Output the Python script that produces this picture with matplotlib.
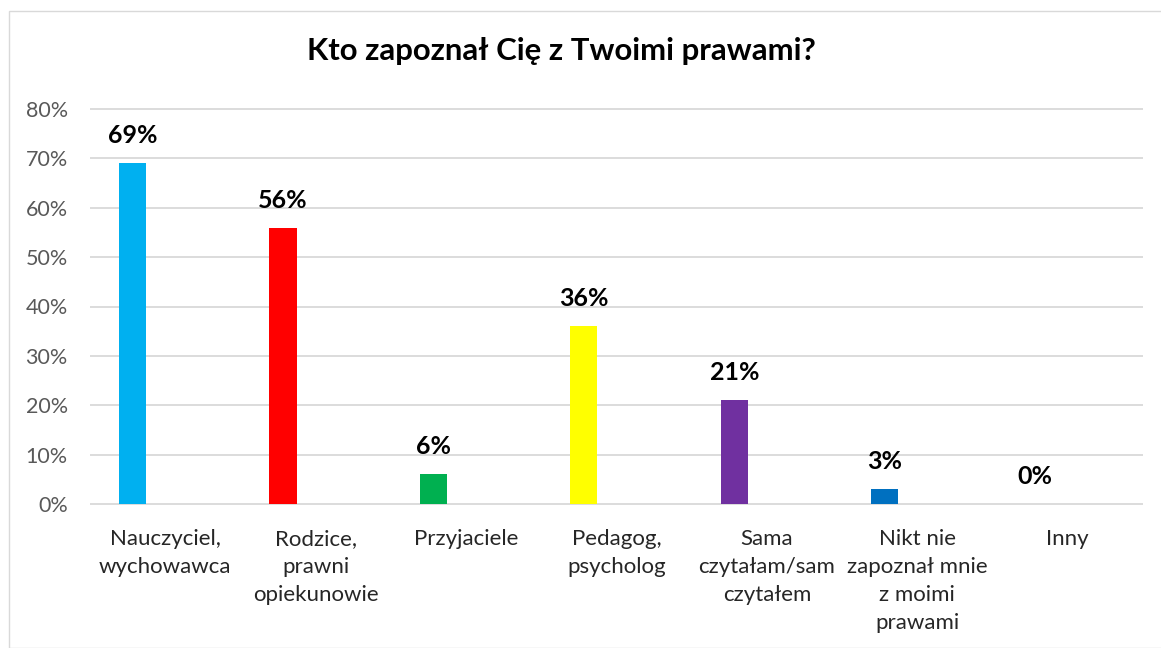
import matplotlib
matplotlib.use("Agg")
import matplotlib.pyplot as plt
from matplotlib.patches import Rectangle
from matplotlib.ticker import PercentFormatter

# dane z wykresu
categories = ["Nauczyciel,\nwychowawca", "Rodzice,\nprawni\nopiekunowie", "Przyjaciele",
              "Pedagog,\npsycholog", "Sama\nczytałam/sam\nczytałem",
              "Nikt nie\nzapoznał mnie\nz moimi\nprawami", "Inny"]
values = [69, 56, 6, 36, 21, 3, 0]
colors = ["#00B0F0", "#FF0000", "#00B050", "#FFFF00", "#7030A0", "#0070C0", "#002060"]
yticks = [0, 10, 20, 30, 40, 50, 60, 70, 80]
title = "Kto zapoznał Cię z Twoimi prawami?"

plt.rcParams['font.family'] = ['Lato', 'DejaVu Sans']

W, H = 1161, 648
fig = plt.figure(figsize=(W / 100, H / 100), dpi=100)

# ramka obszaru wykresu
fig.patches.append(Rectangle((8.5 / W, 0), 1.0, 1 - 10.5 / H, transform=fig.transFigure,
                             fill=False, edgecolor="#D9D9D9", linewidth=1.0))

ax = fig.add_axes([90 / W, 1 - 504 / H, 1053 / W, 395 / H])
x = list(range(len(categories)))
offset = -0.217
ax.bar([i + offset for i in x], values, width=0.18, color=colors, zorder=3)

for i, v in zip(x, values):
    ax.annotate(f"{v}%", (i + offset, v), xytext=(0, 14.4), textcoords="offset points",
                ha="center", va="baseline", fontsize=18, fontweight="bold", color="black")

ax.set_xlim(-0.5, len(categories) - 0.5)
ax.set_ylim(0, 80)
ax.hlines(yticks, -0.5, len(categories) - 0.5, colors="#D9D9D9", linewidth=1.3,
          zorder=1, clip_on=False)
ax.set_yticks(yticks)
ax.yaxis.set_major_formatter(PercentFormatter(decimals=0))
ax.set_xticks(x)
ax.set_xticklabels(categories, fontsize=16, color="#262626", linespacing=1.5)
ax.tick_params(axis="x", length=0, pad=18)
ax.tick_params(axis="y", length=0, pad=16, labelsize=15.5, labelcolor="#595959")
for s in ax.spines.values():
    s.set_visible(False)

fig.text(561 / W, 1 - 60 / H, title, ha="center", va="baseline",
         fontsize=22.4, fontweight="bold", color="black")

fig.savefig("out.png", dpi=100)
